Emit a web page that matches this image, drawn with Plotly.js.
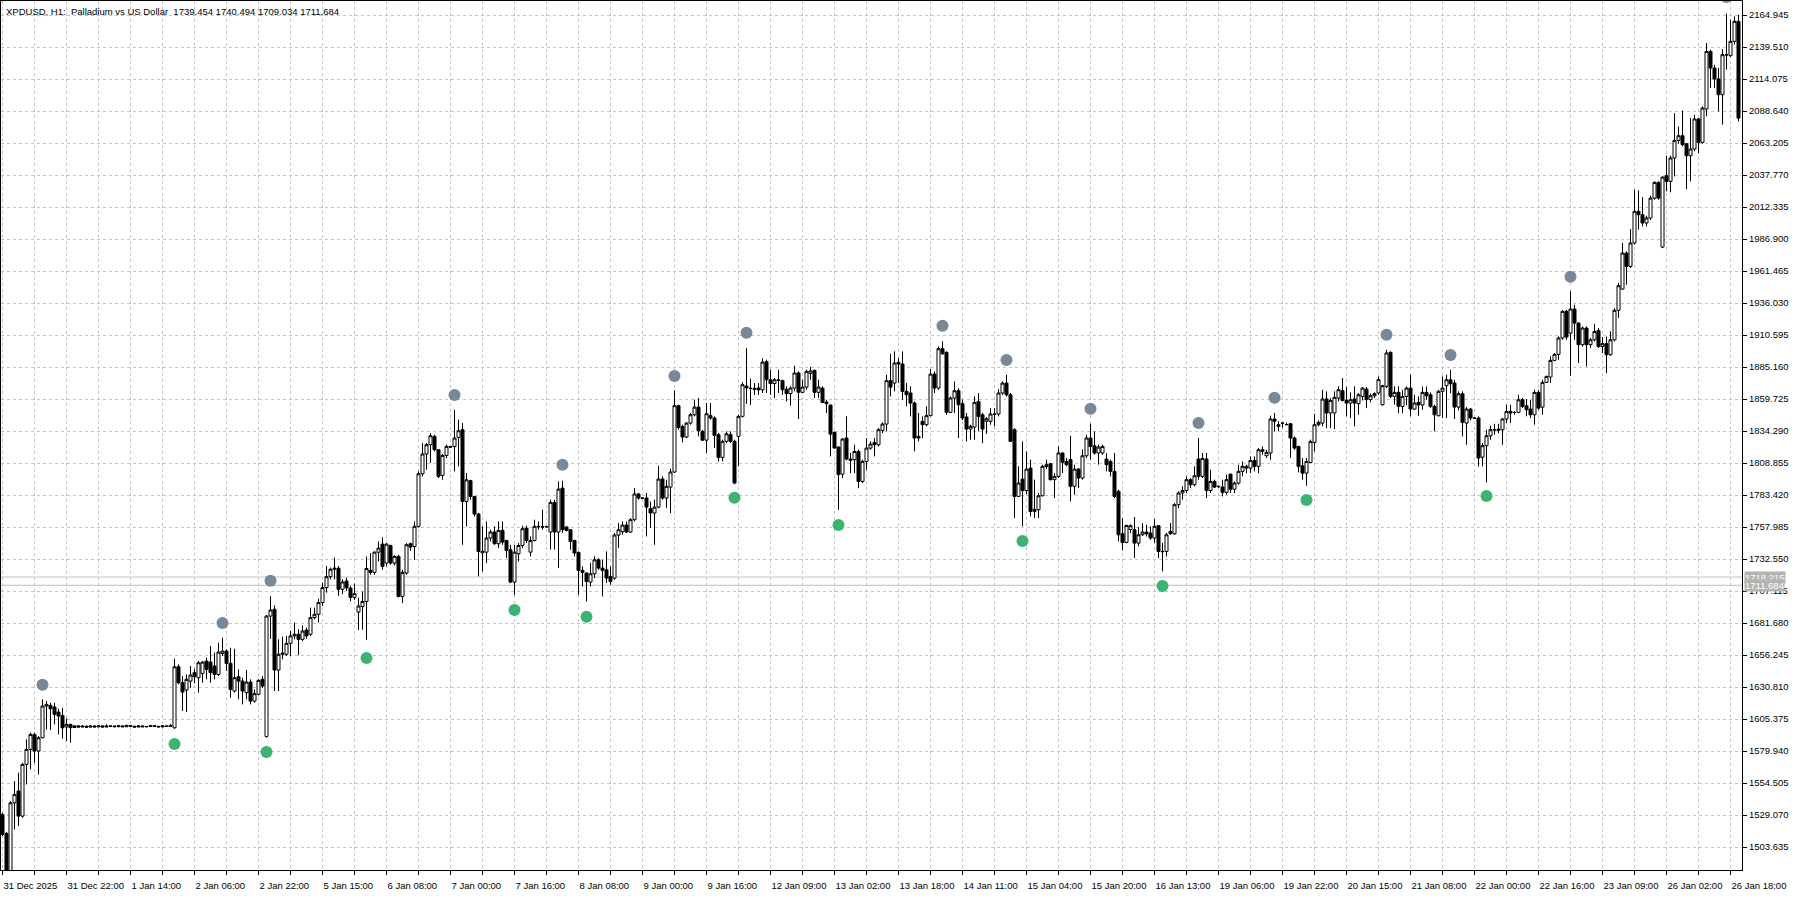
<!DOCTYPE html>
<html>
<head>
<meta charset="utf-8">
<script src="https://cdn.plot.ly/plotly-3.0.1.min.js"></script>
<style>
html,body{margin:0;padding:0;background:#fff;}
#chart{width:1800px;height:900px;}
</style>
</head>
<body>
<div id="chart"></div>
<script>
// ---- Data ----
const chartTitle = "XPDUSD, H1:  Palladium vs US Dollar  1739.454 1740.494 1709.034 1711.684";

const timeLabels = ["31 Dec 2025","31 Dec 22:00","1 Jan 14:00","2 Jan 06:00","2 Jan 22:00","5 Jan 15:00","6 Jan 08:00","7 Jan 00:00","7 Jan 16:00","8 Jan 08:00","9 Jan 00:00","9 Jan 16:00","12 Jan 09:00","13 Jan 02:00","13 Jan 18:00","14 Jan 11:00","15 Jan 04:00","15 Jan 20:00","16 Jan 13:00","19 Jan 06:00","19 Jan 22:00","20 Jan 15:00","21 Jan 08:00","22 Jan 00:00","22 Jan 16:00","23 Jan 09:00","26 Jan 02:00","26 Jan 18:00"];

const priceTicks = [1503.635,1529.070,1554.505,1579.940,1605.375,1630.810,1656.245,1681.680,1707.115,1732.550,1757.985,1783.420,1808.855,1834.290,1859.725,1885.160,1910.595,1936.030,1961.465,1986.900,2012.335,2037.770,2063.205,2088.640,2114.075,2139.510,2164.945];
const priceTickLabels = ["1503.635","1529.070","1554.505","1579.940","1605.375","1630.810","1656.245","1681.680","1707.115","1732.550","1757.985","1783.420","1808.855","1834.290","1859.725","1885.160","1910.595","1936.030","1961.465","1986.900","2012.335","2037.770","2063.205","2088.640","2114.075","2139.510","2164.945"];

const priceLines = [1718.215, 1711.684];
const priceLineLabels = ["1718.215", "1711.684"];

const openPrices = [
1529.5,1514.4,1483.2,1538.8,1548.1,1528.2,1569.3,1581.2,1593.1,1579.9,
1590.5,1615.7,1616.2,1614.9,1610.9,1608.2,1599.0,1601.1,1598.6,1599.9,
1599.0,1599.6,1598.9,1599.8,1599.1,1599.9,1599.0,1599.7,1599.8,1599.3,
1599.9,1599.2,1600.1,1599.6,1599.0,1599.8,1599.2,1599.4,1600.0,1599.5,
1599.1,1599.9,1599.4,1598.4,1646.9,1634.2,1628.4,1635.5,1642.2,1638.2,
1641.6,1651.4,1650.6,1647.5,1640.8,1657.4,1659.4,1649.6,1627.6,1639.0,
1635.5,1626.3,1634.7,1619.6,1625.0,1636.9,1591.5,1687.2,1692.6,1644.3,
1656.8,1656.8,1665.5,1671.4,1672.7,1668.7,1676.1,1672.7,1686.0,1688.6,
1697.9,1709.8,1718.5,1724.4,1725.2,1708.5,1715.0,1709.4,1702.0,1690.4,
1694.8,1698.8,1723.5,1721.9,1738.0,1744.4,1729.3,1743.3,1729.3,1734.6,
1702.8,1721.4,1744.7,1742.5,1758.5,1800.3,1816.0,1823.4,1830.0,1819.4,
1799.0,1814.9,1822.0,1822.0,1829.2,1835.3,1778.3,1794.8,1782.3,1768.3,
1737.4,1738.0,1749.2,1754.0,1744.7,1755.3,1747.3,1739.9,1714.2,1736.7,
1743.3,1757.1,1738.0,1747.3,1758.5,1758.2,1758.0,1754.0,1777.5,1754.0,
1788.9,1758.0,1755.8,1747.3,1737.8,1723.5,1721.4,1714.2,1720.8,1731.9,
1725.3,1724.0,1718.7,1717.4,1751.6,1754.2,1759.5,1754.0,1763.8,1784.2,
1781.0,1781.0,1772.5,1769.1,1773.8,1796.1,1781.0,1789.7,1801.7,1854.4,
1837.9,1829.5,1840.6,1847.2,1853.3,1834.0,1827.0,1846.5,1844.6,1831.3,
1813.3,1826.1,1831.4,1826.1,1830.0,1845.9,1870.0,1868.0,1868.2,1868.5,
1867.0,1889.5,1875.0,1872.0,1875.0,1874.3,1867.4,1864.0,1868.4,1880.4,
1865.0,1869.2,1880.0,1882.5,1865.0,1868.4,1857.3,1854.9,1833.2,1821.5,
1800.0,1828.7,1812.0,1811.5,1818.0,1794.2,1810.1,1820.7,1825.2,1823.4,
1834.8,1839.8,1874.3,1872.4,1888.8,1887.5,1865.8,1864.5,1856.5,1830.0,
1841.9,1839.3,1846.5,1879.5,1868.4,1899.7,1896.8,1849.1,1860.5,1866.3,
1856.0,1845.4,1835.8,1837.4,1857.8,1847.2,1842.0,1842.0,1847.8,1847.8,
1864.5,1872.4,1863.1,1835.3,1782.3,1796.0,1787.0,1804.8,1770.4,1771.7,
1782.8,1806.0,1808.3,1795.6,1798.2,1816.8,1810.1,1811.5,1790.3,1804.0,
1796.9,1814.6,1828.7,1822.6,1816.8,1816.8,1812.0,1810.1,1802.2,1786.3,
1752.6,1745.7,1756.0,1755.8,1745.2,1751.8,1754.0,1753.2,1749.2,1759.0,
1738.6,1738.6,1754.5,1752.6,1775.7,1785.0,1787.0,1795.6,1791.6,1812.0,
1798.2,1812.0,1787.0,1794.2,1790.0,1789.7,1785.5,1800.0,1788.0,1792.9,
1802.2,1806.2,1804.8,1810.9,1806.2,1818.1,1814.6,1816.8,1843.8,1839.3,
1840.6,1839.3,1840.1,1828.7,1822.0,1806.7,1800.8,1809.3,1825.2,1839.3,
1840.6,1859.7,1848.6,1848.6,1860.5,1866.3,1858.6,1856.5,1859.7,1856.0,
1861.8,1867.6,1859.2,1862.3,1864.5,1855.2,1869.8,1896.8,1861.8,1865.0,
1853.8,1861.8,1868.4,1851.7,1857.0,1855.0,1865.0,1863.1,1853.8,1846.4,
1865.8,1870.3,1875.0,1872.4,1853.3,1863.9,1840.6,1851.7,1844.6,1844.6,
1813.5,1822.6,1830.5,1835.3,1835.8,1835.3,1843.8,1849.9,1849.0,1849.1,
1859.1,1854.4,1851.7,1847.2,1865.0,1853.3,1872.9,1877.2,1890.4,1895.2,
1908.2,1929.4,1912.1,1931.2,1920.1,1902.9,1916.1,1902.9,1906.8,1914.2,
1901.5,1903.7,1894.9,1906.8,1930.2,1947.1,1975.7,1965.1,1983.7,2008.9,
2006.2,1999.6,2003.6,2019.4,2031.9,1980.5,2037.2,2032.7,2051.3,2065.3,
2069.0,2062.6,2053.1,2058.4,2082.3,2063.7,2090.2,2136.0,2122.8,2114.1,
2101.6,2133.4,2132.6,2144.0,2159.9
];

const highPrices = [
1530.9,1515.5,1540.1,1556.0,1562.7,1570.6,1589.2,1594.5,1594.5,1591.8,
1621.0,1619.6,1618.3,1618.3,1613.5,1614.3,1605.8,1601.5,1600.3,1600.4,
1600.6,1600.2,1600.5,1600.3,1600.4,1600.2,1601.1,1600.0,1600.1,1600.3,
1600.2,1600.9,1600.4,1599.9,1600.5,1600.1,1599.6,1600.7,1600.2,1600.0,
1600.4,1600.1,1601.5,1653.3,1648.8,1639.5,1640.8,1647.5,1645.3,1651.4,
1651.4,1654.1,1663.4,1658.1,1666.0,1670.0,1660.7,1662.0,1661.2,1644.8,
1638.2,1644.3,1636.9,1628.9,1636.9,1639.5,1688.0,1703.0,1695.7,1668.7,
1670.8,1671.4,1675.3,1682.0,1676.7,1679.8,1678.0,1693.9,1693.9,1701.0,
1713.8,1727.0,1725.7,1733.6,1727.0,1716.4,1717.7,1711.0,1713.0,1701.8,
1706.7,1734.5,1737.2,1738.6,1746.5,1749.7,1745.2,1743.9,1735.5,1735.9,
1724.0,1745.2,1745.5,1762.4,1802.2,1824.7,1824.7,1832.6,1831.3,1819.5,
1816.0,1823.4,1822.3,1851.2,1843.3,1840.6,1800.9,1795.5,1782.5,1769.0,
1758.5,1762.4,1755.8,1758.5,1762.4,1762.4,1747.8,1743.9,1743.9,1745.2,
1759.0,1759.0,1750.5,1763.8,1762.4,1771.7,1759.0,1779.7,1779.7,1794.2,
1794.8,1758.5,1756.3,1747.8,1738.6,1726.6,1721.9,1729.3,1734.6,1733.3,
1731.9,1738.6,1726.6,1753.2,1761.1,1762.4,1762.4,1765.1,1788.9,1785.0,
1781.5,1785.0,1778.3,1779.7,1806.7,1798.2,1795.5,1804.3,1866.6,1855.2,
1839.3,1841.2,1848.6,1859.2,1860.5,1835.0,1856.5,1856.5,1845.9,1832.7,
1827.4,1834.0,1834.0,1827.4,1847.2,1873.0,1900.2,1876.0,1872.4,1872.4,
1892.0,1891.0,1883.0,1876.4,1883.0,1875.1,1869.8,1869.8,1886.2,1881.7,
1875.1,1883.0,1885.2,1883.0,1875.1,1869.8,1859.0,1855.2,1833.9,1822.0,
1828.7,1845.9,1816.8,1823.4,1819.4,1811.5,1828.7,1826.1,1828.7,1836.6,
1841.1,1879.0,1895.7,1897.6,1892.3,1897.6,1872.4,1869.8,1857.8,1848.6,
1845.9,1853.9,1883.5,1881.7,1901.5,1905.6,1897.6,1861.8,1873.7,1868.4,
1859.2,1848.6,1839.3,1861.8,1864.5,1848.6,1845.4,1852.5,1852.5,1867.6,
1873.7,1879.0,1864.5,1836.6,1806.2,1826.0,1818.0,1811.5,1795.6,1784.9,
1807.5,1811.5,1808.8,1800.8,1822.0,1817.3,1812.8,1830.5,1807.5,1804.8,
1819.4,1831.3,1840.1,1834.0,1823.4,1823.4,1816.8,1811.5,1816.8,1787.6,
1765.1,1759.8,1760.0,1765.9,1758.0,1761.1,1759.8,1758.5,1764.3,1759.2,
1745.2,1753.2,1761.1,1777.0,1786.3,1790.3,1798.2,1796.9,1806.2,1828.7,
1816.8,1816.8,1803.5,1795.6,1791.0,1795.6,1799.6,1800.3,1794.2,1807.5,
1810.1,1807.5,1814.1,1814.1,1820.7,1822.0,1819.4,1846.5,1848.6,1842.0,
1840.8,1841.0,1840.6,1830.0,1822.6,1812.8,1812.8,1827.4,1848.0,1842.7,
1867.1,1865.8,1860.5,1865.8,1869.8,1876.4,1869.2,1865.0,1869.8,1864.5,
1869.2,1869.2,1864.0,1865.0,1877.7,1871.0,1898.9,1897.6,1869.8,1869.8,
1867.0,1869.7,1879.0,1863.0,1861.8,1869.7,1869.7,1865.0,1855.2,1867.1,
1877.7,1879.0,1883.0,1875.0,1865.8,1865.8,1853.3,1852.5,1845.0,1845.9,
1824.7,1835.3,1838.5,1840.0,1840.0,1844.6,1855.2,1855.2,1849.9,1863.1,
1860.5,1859.6,1859.1,1867.1,1867.1,1875.0,1878.2,1893.6,1896.2,1909.5,
1930.2,1930.7,1945.3,1934.6,1920.6,1917.4,1917.4,1908.2,1919.5,1916.1,
1908.9,1909.5,1913.5,1932.0,1951.9,1983.7,1977.1,1994.8,2026.1,2025.5,
2020.2,2005.4,2021.3,2032.7,2032.7,2036.7,2053.1,2053.1,2087.0,2076.4,
2088.9,2063.2,2083.0,2085.7,2083.0,2092.3,2142.7,2137.4,2125.4,2122.8,
2137.9,2166.0,2161.2,2163.9,2165.2
];

const lowPrices = [
1512.3,1482.6,1482.6,1517.6,1520.3,1526.9,1553.4,1565.3,1570.6,1561.3,
1590.0,1597.1,1596.6,1601.1,1593.1,1589.7,1587.8,1586.5,1598.2,1598.6,
1598.8,1598.4,1598.7,1598.8,1598.9,1598.7,1598.9,1599.2,1598.6,1598.8,
1599.1,1599.0,1599.3,1598.7,1598.9,1599.0,1598.6,1599.2,1599.1,1598.9,
1598.8,1599.2,1599.0,1597.6,1632.9,1611.7,1610.9,1630.2,1633.7,1626.3,
1634.2,1636.9,1634.2,1636.9,1639.5,1655.4,1643.5,1622.3,1626.3,1621.0,
1617.0,1621.0,1617.0,1618.3,1624.1,1630.2,1590.5,1669.0,1627.6,1627.6,
1652.8,1655.5,1655.5,1668.7,1656.0,1667.4,1669.2,1671.4,1684.6,1682.0,
1695.2,1705.8,1716.4,1716.4,1703.2,1704.5,1707.1,1699.0,1700.0,1676.1,
1676.3,1668.4,1720.0,1720.0,1730.6,1724.0,1726.6,1728.0,1727.5,1702.0,
1697.5,1720.0,1739.0,1731.9,1757.5,1798.2,1803.5,1808.8,1818.1,1796.9,
1795.5,1812.8,1821.2,1802.2,1806.1,1743.9,1758.5,1779.7,1766.4,1718.7,
1722.7,1729.3,1746.5,1743.9,1741.2,1743.9,1733.3,1713.4,1704.1,1730.6,
1741.2,1745.2,1734.6,1746.5,1755.8,1755.8,1757.5,1740.0,1740.0,1725.3,
1753.2,1754.5,1739.9,1734.6,1704.1,1710.8,1698.8,1710.8,1717.4,1724.0,
1702.8,1713.4,1712.1,1716.0,1741.2,1751.8,1753.2,1753.2,1762.4,1779.7,
1780.2,1750.5,1757.1,1743.9,1773.0,1779.7,1773.0,1769.1,1800.9,1835.3,
1825.2,1828.7,1839.3,1845.9,1830.0,1826.5,1816.8,1843.3,1820.7,1810.1,
1810.1,1824.7,1824.7,1792.0,1806.2,1845.0,1855.8,1855.0,1863.0,1863.0,
1864.5,1864.5,1863.0,1860.5,1864.5,1863.0,1857.8,1854.5,1865.8,1843.8,
1864.5,1867.0,1875.0,1860.5,1860.5,1856.5,1848.6,1814.1,1820.5,1771.7,
1796.9,1811.0,1800.8,1800.8,1788.9,1792.9,1803.5,1819.4,1814.1,1822.0,
1832.7,1834.0,1861.8,1865.8,1872.4,1859.2,1853.9,1845.9,1818.1,1826.0,
1828.7,1838.0,1845.9,1864.5,1867.1,1894.9,1847.2,1848.6,1848.6,1828.7,
1843.0,1826.0,1827.4,1827.4,1834.0,1824.7,1832.0,1839.3,1838.0,1845.9,
1863.1,1861.8,1826.0,1765.0,1782.0,1758.5,1784.0,1766.4,1765.1,1765.1,
1782.3,1804.0,1795.0,1781.0,1796.9,1800.8,1806.2,1778.3,1783.6,1788.9,
1795.6,1812.8,1811.5,1815.4,1807.5,1815.4,1802.2,1798.2,1781.0,1746.5,
1739.4,1745.2,1753.0,1733.3,1742.6,1751.0,1750.5,1747.8,1745.2,1733.3,
1722.7,1734.6,1751.8,1751.8,1773.0,1779.7,1785.0,1788.9,1790.3,1795.6,
1796.9,1781.0,1785.0,1789.0,1789.0,1782.3,1783.6,1785.0,1785.0,1791.6,
1798.2,1800.8,1800.8,1802.2,1800.8,1815.4,1812.8,1811.5,1834.0,1834.0,
1837.0,1839.0,1812.8,1819.4,1801.4,1795.6,1790.8,1808.8,1818.1,1838.0,
1838.0,1836.6,1836.6,1835.8,1857.8,1857.8,1846.0,1844.6,1838.0,1847.2,
1858.6,1852.5,1857.0,1860.5,1863.1,1854.4,1868.4,1860.5,1855.2,1848.5,
1848.5,1855.0,1846.0,1851.2,1846.4,1851.2,1859.1,1852.5,1834.0,1845.9,
1844.6,1844.6,1864.4,1843.8,1850.6,1830.0,1823.4,1842.7,1843.8,1806.1,
1806.1,1793.4,1827.3,1831.3,1832.6,1823.4,1840.6,1840.6,1847.2,1848.5,
1852.5,1846.0,1844.6,1839.3,1851.2,1847.2,1872.4,1872.4,1889.8,1890.9,
1906.8,1906.8,1878.2,1906.8,1888.3,1901.5,1885.6,1900.2,1905.5,1900.2,
1896.2,1880.3,1894.1,1905.5,1924.1,1946.6,1950.6,1963.8,1982.4,1994.3,
1996.9,1996.9,2002.0,2018.1,2018.1,1979.7,2024.8,2024.0,2036.7,2062.6,
2060.5,2026.6,2032.7,2056.6,2055.2,2062.6,2084.4,2106.9,2106.9,2088.3,
2077.8,2121.5,2131.6,2141.4,2080.4
];

const closePrices = [
1513.6,1483.2,1538.8,1545.4,1528.2,1569.3,1581.2,1593.1,1579.9,1590.5,
1615.7,1617.0,1613.5,1609.0,1607.7,1598.4,1601.1,1598.4,1599.9,1599.0,
1599.6,1598.9,1599.8,1599.1,1599.9,1599.0,1599.7,1599.8,1599.3,1599.9,
1599.2,1600.1,1599.6,1599.0,1599.8,1599.2,1599.4,1600.0,1599.5,1599.1,
1599.9,1599.4,1600.3,1646.9,1634.2,1626.8,1636.9,1640.3,1639.0,1650.1,
1650.6,1644.8,1642.2,1640.8,1658.6,1659.4,1649.6,1628.9,1638.2,1635.5,
1627.6,1634.7,1619.6,1625.5,1636.1,1631.6,1687.2,1692.0,1644.3,1656.8,
1657.6,1665.5,1671.4,1672.7,1668.7,1675.3,1671.4,1686.0,1688.6,1697.9,
1709.8,1718.5,1724.4,1725.2,1708.5,1714.3,1709.6,1702.0,1705.0,1695.2,
1698.8,1725.0,1721.9,1738.0,1741.2,1726.6,1744.4,1729.3,1734.6,1702.8,
1721.9,1743.9,1742.0,1758.5,1800.3,1816.0,1823.4,1830.5,1819.4,1798.2,
1814.9,1822.0,1821.5,1828.7,1834.5,1778.3,1795.5,1782.3,1768.3,1738.6,
1738.6,1749.2,1754.0,1744.7,1755.3,1746.0,1739.4,1714.2,1738.0,1743.3,
1756.6,1747.3,1747.3,1758.5,1758.2,1758.0,1758.3,1777.5,1754.0,1788.1,
1755.8,1755.3,1746.5,1737.3,1723.5,1721.9,1714.7,1720.8,1731.9,1725.3,
1723.5,1717.4,1714.7,1751.6,1755.8,1759.5,1754.0,1763.8,1784.2,1781.0,
1780.8,1773.8,1769.1,1773.8,1796.1,1781.0,1790.3,1801.7,1854.4,1837.2,
1829.5,1840.6,1847.2,1853.3,1834.5,1827.0,1848.0,1844.6,1830.8,1813.3,
1826.1,1832.1,1826.1,1792.9,1845.9,1871.1,1868.5,1868.2,1867.5,1867.0,
1889.0,1875.0,1872.0,1875.0,1874.5,1867.1,1864.0,1868.4,1880.4,1865.0,
1869.2,1881.7,1882.0,1865.0,1869.2,1857.0,1856.0,1831.8,1820.7,1799.6,
1827.9,1812.0,1811.0,1818.0,1794.2,1810.1,1820.7,1823.9,1823.4,1835.3,
1839.8,1874.3,1869.2,1888.3,1887.5,1865.8,1863.1,1856.5,1828.7,1828.7,
1839.3,1846.5,1879.5,1868.4,1899.7,1895.7,1849.1,1860.5,1866.3,1855.2,
1844.6,1835.8,1838.0,1857.0,1845.9,1835.8,1844.0,1847.8,1847.6,1864.5,
1872.4,1863.1,1826.1,1782.3,1792.9,1787.0,1804.0,1770.4,1772.0,1782.8,
1806.2,1807.5,1795.6,1798.2,1816.8,1809.4,1807.5,1790.3,1804.0,1796.9,
1814.6,1828.7,1822.0,1816.8,1821.5,1822.0,1807.5,1802.2,1782.3,1751.8,
1745.7,1759.2,1759.0,1745.2,1751.8,1754.0,1752.6,1749.2,1758.5,1738.6,
1738.4,1751.8,1752.6,1775.7,1785.0,1787.0,1795.6,1791.6,1798.7,1798.2,
1812.5,1787.0,1794.2,1789.7,1790.3,1785.5,1795.6,1788.0,1792.9,1802.2,
1806.2,1804.8,1810.9,1806.2,1819.4,1819.4,1817.3,1843.8,1842.0,1838.0,
1840.5,1839.4,1828.7,1820.7,1806.2,1800.8,1810.1,1826.0,1839.3,1841.1,
1859.7,1848.6,1858.6,1861.0,1867.1,1858.6,1856.5,1859.2,1856.5,1863.1,
1868.4,1859.2,1862.3,1864.0,1875.1,1870.3,1896.3,1861.8,1865.0,1853.9,
1861.8,1868.4,1851.7,1856.5,1855.0,1865.0,1862.3,1853.8,1847.2,1865.8,
1868.4,1875.0,1871.8,1853.3,1863.9,1841.1,1851.7,1844.6,1844.4,1812.8,
1822.6,1830.5,1835.3,1835.2,1834.8,1843.8,1849.9,1848.5,1849.1,1859.1,
1853.8,1851.2,1847.2,1865.0,1852.5,1872.9,1877.7,1890.4,1895.2,1908.2,
1929.4,1909.0,1931.2,1920.1,1902.9,1916.1,1902.9,1906.8,1913.4,1901.5,
1903.7,1894.9,1906.8,1930.2,1949.8,1975.7,1965.1,1983.7,2008.9,2006.2,
1999.6,2003.6,2019.4,2031.9,2019.4,2036.1,2032.7,2051.3,2065.3,2069.0,
2061.9,2053.1,2058.4,2082.3,2063.7,2091.0,2136.0,2122.8,2114.1,2101.6,
2133.4,2133.2,2144.0,2159.9,2083.0
];

// Swing markers: bar index and marker level
const swingHighBars   = [10, 55, 67, 113, 140, 168, 186, 235, 251, 272, 299, 318, 346, 362, 392, 431];
const swingHighLevels = [1632.6, 1681.7, 1715.3, 1862.9, 1807.5, 1878.0, 1912.4, 1918.0, 1890.7, 1852.0, 1840.6, 1860.7, 1910.8, 1894.7, 1956.9, 2179.3];
const swingLowBars    = [43, 66, 91, 128, 146, 183, 209, 255, 290, 326, 371];
const swingLowLevels  = [1585.5, 1579.1, 1653.8, 1692.0, 1686.7, 1781.3, 1759.5, 1746.8, 1711.1, 1779.4, 1782.6];

// ---- Build ----
const barIndex = openPrices.map((_, i) => i);
const gridStep = 8, labelStep = 16;
const xTickVals = [], xTickText = [];
for (let k = 0; k * gridStep <= (timeLabels.length - 1) * labelStep; k++) {
  const v = k * gridStep;
  xTickVals.push(v);
  xTickText.push(v % labelStep === 0 ? timeLabels[v / labelStep] : "");
}

const FONT = "Liberation Sans, Arial, sans-serif";

const traces = [
  {
    type: "candlestick",
    x: barIndex,
    open: openPrices, high: highPrices, low: lowPrices, close: closePrices,
    increasing: { line: { color: "#000000", width: 1 }, fillcolor: "#ffffff" },
    decreasing: { line: { color: "#000000", width: 1 }, fillcolor: "#000000" },
    whiskerwidth: 0,
    hoverinfo: "skip",
    showlegend: false
  },
  {
    type: "scatter", mode: "markers",
    x: swingHighBars, y: swingHighLevels,
    marker: { color: "#778899", size: 12, line: { width: 0 } },
    hoverinfo: "skip", showlegend: false
  },
  {
    type: "scatter", mode: "markers",
    x: swingLowBars, y: swingLowLevels,
    marker: { color: "#3cb371", size: 12, line: { width: 0 } },
    hoverinfo: "skip", showlegend: false
  }
];

const shapes = priceLines.map(p => ({
  type: "line", xref: "paper", x0: 0, x1: 1, yref: "y", y0: p, y1: p,
  line: { color: "#c0c0c0", width: 1 }, layer: "below"
}));

const annotations = [
  {
    xref: "paper", yref: "paper", x: 0, y: 1, xanchor: "left", yanchor: "top",
    xshift: 3, yshift: -3, showarrow: false, text: chartTitle,
    font: { family: FONT, size: 9.5, color: "#000000" }
  }
].concat(priceLines.map((p, i) => ({
  xref: "paper", yref: "y", x: 1, y: p, xanchor: "left", yanchor: "middle",
  xshift: 2, showarrow: false, text: priceLineLabels[i],
  bgcolor: "#b4b4b4", borderpad: 0,
  font: { family: FONT, size: 9.5, color: "#ffffff" }
})));

const gridStyle = { showgrid: true, gridcolor: "#c4c4c4", gridwidth: 1, griddash: "3px,3px" };

const layout = {
  width: 1800, height: 900,
  margin: { l: 1, r: 58, t: 1, b: 30, pad: 0, autoexpand: false },
  paper_bgcolor: "#ffffff", plot_bgcolor: "#ffffff",
  showlegend: false,
  boxgap: 0.25, boxgroupgap: 0,
  xaxis: Object.assign({
    type: "linear",
    range: [-0.375, 434.875],
    tickmode: "array", tickvals: xTickVals, ticktext: xTickText,
    tickangle: 0,
    ticks: "outside", ticklen: 4, tickcolor: "#000000", tickwidth: 1,
    ticklabelposition: "outside right",
    ticklabelstandoff: 7,
    tickfont: { family: FONT, size: 9.5, color: "#000000" },
    showline: true, linecolor: "#000000", linewidth: 1, mirror: true,
    zeroline: false, fixedrange: true,
    rangeslider: { visible: false }
  }, gridStyle),
  yaxis: Object.assign({
    side: "right",
    range: [1485.35, 2176.07],
    tickmode: "array", tickvals: priceTicks, ticktext: priceTickLabels,
    ticks: "outside", ticklen: 4, tickcolor: "#000000", tickwidth: 1,
    tickfont: { family: FONT, size: 9.5, color: "#000000" },
    showline: true, linecolor: "#000000", linewidth: 1, mirror: true,
    zeroline: false, fixedrange: true
  }, gridStyle),
  shapes: shapes,
  annotations: annotations
};

Plotly.newPlot("chart", traces, layout, { staticPlot: true, displayModeBar: false });
</script>
</body>
</html>
